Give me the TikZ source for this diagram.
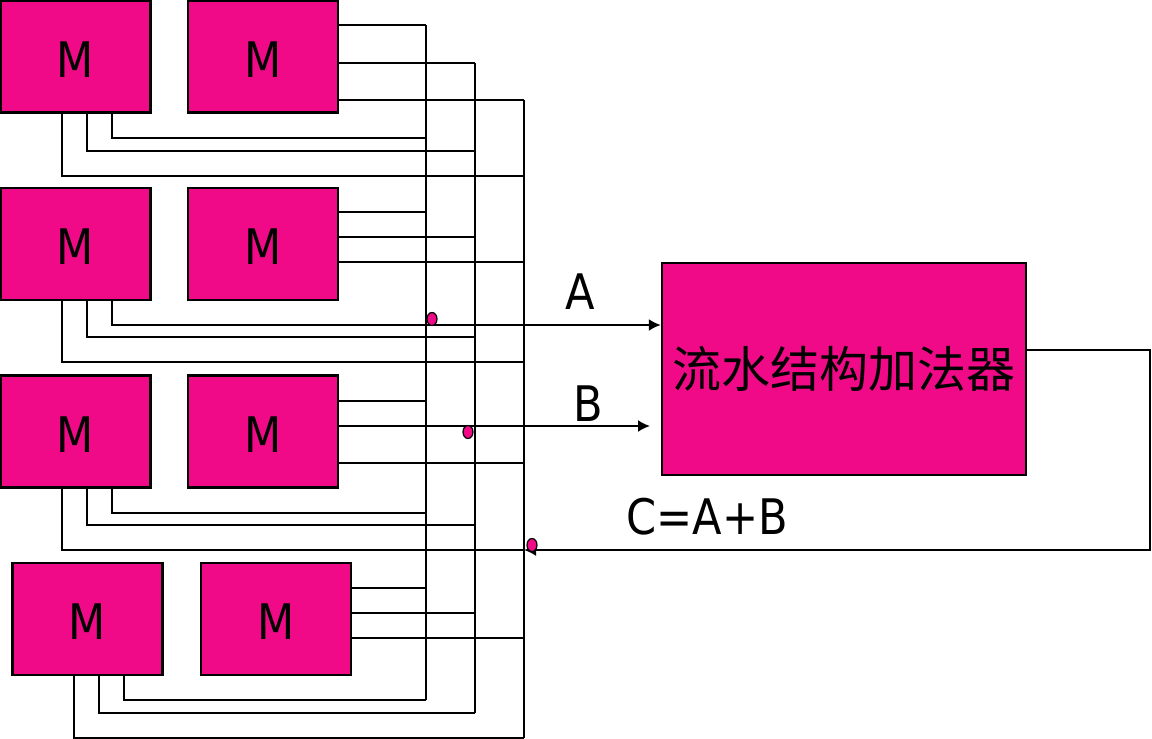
\documentclass[tikz,border=0pt]{standalone}
\usepackage{fontspec}
\setmainfont{DejaVu Sans}
\newfontfamily\narrowfont[FakeStretch=0.88]{DejaVu Sans}
\newfontfamily\cjk{Noto Sans CJK SC}
\usetikzlibrary{arrows.meta,calc,shapes.geometric}
\definecolor{memred}{RGB}{240,10,136}
\tikzset{
    mem-box/.style = {draw, fill=memred, line width=1.2pt, rectangle, minimum width=75pt, minimum height=56pt, inner sep=0pt, text height=20.9pt, text depth=0pt, font=\narrowfont\fontsize{24.5}{28}\selectfont},
    adder-box/.style = {draw, fill=memred, line width=1.2pt, rectangle, minimum width=182pt, minimum height=106pt, inner sep=0pt, font=\cjk\fontsize{24.5}{28}\selectfont},
    bus-line/.style = {line width=1pt},
    tap-dot/.style = {draw, fill=memred, line width=0.6pt, ellipse, minimum width=5pt, minimum height=6.5pt, inner sep=0pt},
    sig-label/.style = {font=\narrowfont\fontsize{24.5}{28}\selectfont},
    sig-arrow/.style = {line width=1pt, -{Latex[length=6pt,width=6pt]}},
}

\begin{document}
\begin{tikzpicture}[x=0.5pt,y=-0.5pt]
\useasboundingbox (0,0) rectangle (1152,739);

% memory modules
\node[mem-box] (ma1) at (75.5,56.5) {M};
\node[mem-box] (mb1) at (263,56.5) {M};
\node[mem-box] (ma2) at (75.5,244) {M};
\node[mem-box] (mb2) at (263,244) {M};
\node[mem-box] (ma3) at (75.5,431.5) {M};
\node[mem-box] (mb3) at (263,431.5) {M};
\node[mem-box] (ma4) at (87.5,619) {M};
\node[mem-box] (mb4) at (276,619) {M};

% adder
\node[adder-box] (add) at (844,369) {流水结构加法器};

% buses
\coordinate (b1top) at (426,25);  \coordinate (b1bot) at (426,700);
\coordinate (b2top) at (475,63);  \coordinate (b2bot) at (475,713);
\coordinate (b3top) at (524,100); \coordinate (b3bot) at (524,738);
\draw[bus-line] (b1top) -- (b1bot);
\draw[bus-line] (b2top) -- (b2bot);
\draw[bus-line] (b3top) -- (b3bot);

% module taps onto the buses
\foreach \r/\ya/\yb/\yc/\yd/\ye/\yf in {1/25/63/100/138/151/176,
        2/212/237/262/325/337/362, 3/401/426/463/513/525/550,
        4/588/613/638/700/713/738}
{
    \draw[bus-line] (mb\r.east |- 0,\ya) -- (b1top |- 0,\ya);
    \draw[bus-line] (mb\r.east |- 0,\yb) -- (b2top |- 0,\yb);
    \draw[bus-line] (mb\r.east |- 0,\yc) -- (b3top |- 0,\yc);
    \draw[bus-line] ($(ma\r.south west)+(113,0)$) |- (b1top |- 0,\yd);
    \draw[bus-line] ($(ma\r.south west)+(88,0)$) |- (b2top |- 0,\ye);
    \draw[bus-line] ($(ma\r.south west)+(63,0)$) |- (b3top |- 0,\yf);
}

% operands and result
\coordinate (bEnd) at (650,426);
\coordinate (fbk) at (1150,550);
\draw[sig-arrow] ($(ma2.south west)+(113,0)$) |- (add.west |- 0,325);
\draw[sig-arrow] (mb3.east |- 0,426) -- (bEnd);
\draw[sig-arrow] (add.east |- 0,350) -| (fbk) -- (b3top |- 0,550);

\node[tap-dot] (dotA) at (432,319) {};
\node[tap-dot] (dotB) at (468,432) {};
\node[tap-dot] (dotC) at (532,545) {};

\node[sig-label] (labA) at (580,292) {A};
\node[sig-label] (labB) at (588,404) {B};
\node[sig-label] (labC) at (707,517) {C=A+B};
\end{tikzpicture}
\end{document}
